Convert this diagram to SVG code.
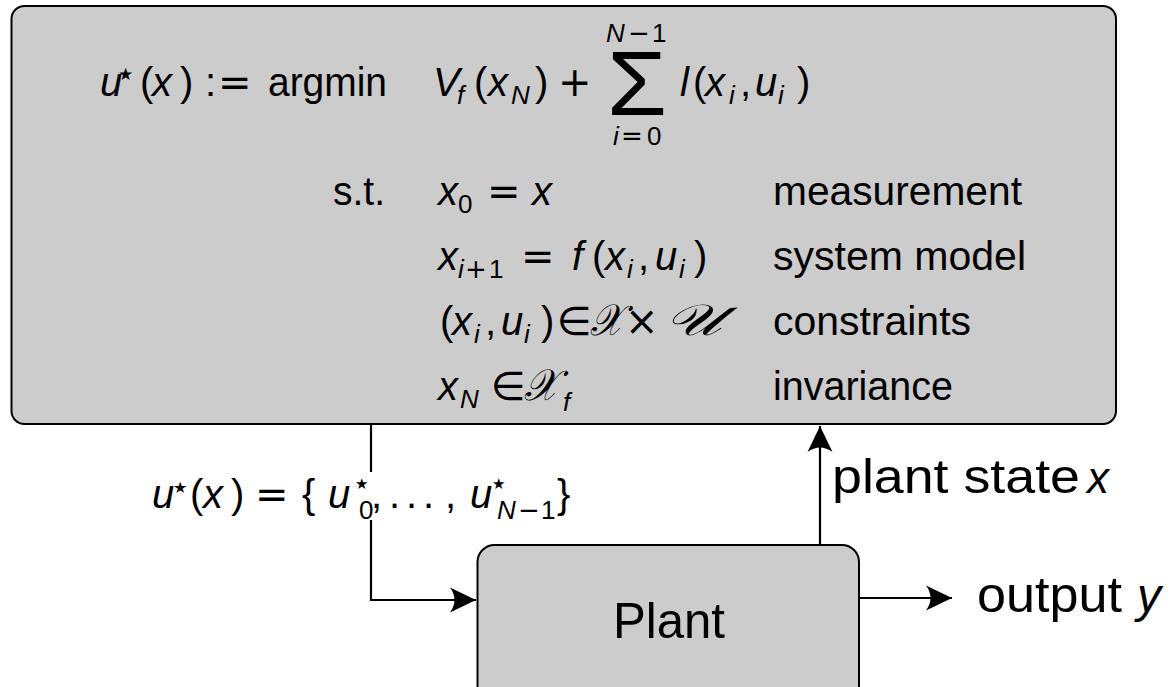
<svg xmlns="http://www.w3.org/2000/svg" width="1173" height="687" viewBox="0 0 1173 687">
<defs>
<style>
.box{fill:#cccccc;stroke:#000;stroke-width:2}
.wire{fill:none;stroke:#000;stroke-width:2.2}
text{font-family:"Liberation Sans",Arial,sans-serif;fill:#000}
.m{font-size:40px}
.i{font-style:italic}
.s{font-size:26px}
.op{font-family:"DejaVu Sans",sans-serif;font-style:normal}
.st{font-family:"DejaVu Sans",sans-serif;font-style:normal}
.lbl{font-size:40.7px}
.cal{font-family:"DejaVu Serif","Noto Sans","DejaVu Sans",serif;font-style:italic;font-size:44px}
</style>
<marker id="arr" viewBox="-28 -14 30 28" refX="0" refY="0" markerWidth="30" markerHeight="28" orient="auto" markerUnits="userSpaceOnUse">
<path d="M0,0 L-26,-12.5 Q-17,0 -26,12.5 Z" fill="#000"/>
</marker>
</defs>

<g id="mpc">
<rect class="box" x="11.5" y="6" width="1104.5" height="418" rx="13"/>
<!-- row 1 -->
<text class="m" y="96"><tspan class="i" x="100">u</tspan><tspan class="st" x="118" y="80" font-size="17">★</tspan><tspan x="140" y="96">(</tspan><tspan class="i" x="152">x</tspan><tspan x="180">)</tspan><tspan x="205">:</tspan><tspan class="op" x="218">=</tspan></text>
<text class="m" x="268" y="96" textLength="119" lengthAdjust="spacingAndGlyphs">argmin</text>
<text class="m" y="96"><tspan class="i" x="433">V</tspan><tspan class="i s" x="457" y="104">f</tspan><tspan x="474" y="96">(</tspan><tspan class="i" x="488">x</tspan><tspan class="i s" x="511" y="104">N</tspan><tspan x="535" y="96">)</tspan><tspan class="op" x="558">+</tspan></text>
<text x="607" y="115" font-family="Liberation Serif,serif" font-size="90" textLength="60" lengthAdjust="spacingAndGlyphs">Σ</text>
<text class="s" y="42"><tspan class="i" x="606">N</tspan><tspan class="op" x="628">−</tspan><tspan x="652">1</tspan></text>
<text class="s" y="145"><tspan class="i" x="613">i</tspan><tspan class="op" x="621">=</tspan><tspan x="647">0</tspan></text>
<text class="m" y="96"><tspan class="i" x="680">l</tspan><tspan x="693">(</tspan><tspan class="i" x="705">x</tspan><tspan class="i s" x="729" y="104">i</tspan><tspan x="740" y="96">,</tspan><tspan class="i" x="755">u</tspan><tspan class="i s" x="778" y="104">i</tspan><tspan x="797" y="96">)</tspan></text>
<!-- row 2 -->
<text class="m" x="333" y="205" textLength="52" lengthAdjust="spacingAndGlyphs">s.t.</text>
<text class="m" y="205"><tspan class="i" x="438">x</tspan><tspan class="s" x="458" y="213">0</tspan><tspan class="op" x="487" y="205">=</tspan><tspan class="i" x="532">x</tspan></text>
<!-- row 3 -->
<text class="m" y="270"><tspan class="i" x="438">x</tspan><tspan class="i s" x="458" y="278">i</tspan><tspan class="op s" x="465">+</tspan><tspan class="s" x="489">1</tspan><tspan class="op" x="521" y="270">=</tspan><tspan class="i" x="572">f</tspan><tspan x="592">(</tspan><tspan class="i" x="605">x</tspan><tspan class="i s" x="627" y="278">i</tspan><tspan x="638" y="270">,</tspan><tspan class="i" x="655">u</tspan><tspan class="i s" x="679" y="278">i</tspan><tspan x="694" y="270">)</tspan></text>
<!-- row 4 -->
<text class="m" y="335"><tspan x="440">(</tspan><tspan class="i" x="452">x</tspan><tspan class="i s" x="474" y="343">i</tspan><tspan x="485" y="335">,</tspan><tspan class="i" x="501">u</tspan><tspan class="i s" x="524" y="343">i</tspan><tspan x="541" y="335">)</tspan><tspan class="op" x="557">∈</tspan><tspan class="op" x="625">×</tspan></text>
<text class="cal" x="590" y="335" textLength="33" lengthAdjust="spacingAndGlyphs">𝒳</text>
<text class="cal" x="664" y="335" textLength="58" lengthAdjust="spacingAndGlyphs">𝒰</text>
<!-- row 5 -->
<text class="m" y="400"><tspan class="i" x="438">x</tspan><tspan class="i s" x="460" y="408">N</tspan><tspan class="op" x="491" y="400">∈</tspan><tspan class="i s" x="563" y="411">f</tspan></text>
<text class="cal" x="524" y="400" textLength="34" lengthAdjust="spacingAndGlyphs">𝒳</text>
<!-- right labels -->
<text class="lbl" x="773" y="205" textLength="249" lengthAdjust="spacingAndGlyphs">measurement</text>
<text class="lbl" x="773" y="270" textLength="253" lengthAdjust="spacingAndGlyphs">system model</text>
<text class="lbl" x="773" y="335" textLength="198" lengthAdjust="spacingAndGlyphs">constraints</text>
<text class="lbl" x="773" y="400" textLength="180" lengthAdjust="spacingAndGlyphs">invariance</text>
</g>

<g id="plant">
<rect class="box" x="477.5" y="545" width="381.5" height="200" rx="17"/>
<text x="613" y="638" font-size="50" textLength="112" lengthAdjust="spacingAndGlyphs">Plant</text>
</g>

<g id="connectors">
<path class="wire" d="M371,424 V600 H476" marker-end="url(#arr)"/>
<path class="wire" d="M820,545 V426" marker-end="url(#arr)"/>
<path class="wire" d="M859,598 H952" marker-end="url(#arr)"/>
</g>

<g id="labels">
<rect x="146" y="472" width="432" height="48" fill="#fff"/>
<text class="m" y="508"><tspan class="i" x="152">u</tspan><tspan class="st" x="173" y="493" font-size="16">★</tspan><tspan x="190" y="508">(</tspan><tspan class="i" x="203">x</tspan><tspan x="231">)</tspan><tspan class="op" x="255">=</tspan><tspan x="302">{</tspan><tspan class="i" x="328">u</tspan><tspan class="st" x="355" y="489" font-size="15">★</tspan><tspan class="s" x="359" y="519">0</tspan><tspan x="371" y="508">,</tspan><tspan x="389">.</tspan><tspan x="406">.</tspan><tspan x="423">.</tspan><tspan x="445">,</tspan><tspan class="i" x="470">u</tspan><tspan class="st" x="492" y="489" font-size="15">★</tspan><tspan class="i s" x="497" y="519">N</tspan><tspan class="op s" x="518">−</tspan><tspan class="s" x="541">1</tspan><tspan x="557" y="508">}</tspan></text>
<text x="832" y="493" font-size="48" textLength="248" lengthAdjust="spacingAndGlyphs">plant state</text>
<text class="i" x="1087" y="493" font-size="44">x</text>
<text x="977" y="612" font-size="50" textLength="145" lengthAdjust="spacingAndGlyphs">output</text>
<text class="i" x="1137" y="612" font-size="48">y</text>
</g>
</svg>
